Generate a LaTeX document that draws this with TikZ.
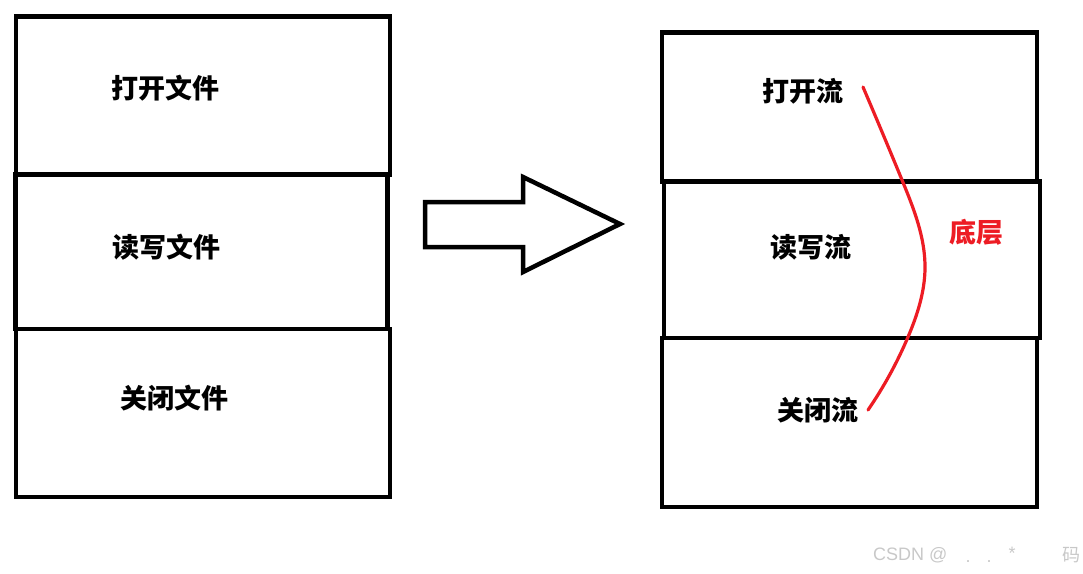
\documentclass[tikz,border=0pt]{standalone}
\usepackage{fontspec}
\newfontfamily\cjk{Noto Sans CJK SC}
\newfontfamily\wmfont{Liberation Sans}
\usetikzlibrary{hobby,positioning}
\definecolor{paintred}{RGB}{237,28,36}
\definecolor{wmgray}{RGB}{200,200,200}
\tikzset{
    layer box/.style={
        draw=black,
        line width=4.5pt,
        rectangle,
        inner sep=0pt,
        outer sep=0pt
    },
    layer text/.style={
        font=\cjk\bfseries\fontsize{27}{27}\selectfont,
        inner sep=0pt
    },
    big arrow/.style={
        draw=black,
        line width=4.5pt,
        fill=white
    },
    bottom curve/.style={
        draw=paintred,
        line width=3.2pt,
        line cap=round
    },
    watermark/.style={
        font=\wmfont\fontsize{18}{18}\selectfont,
        text=wmgray,
        inner sep=0pt
    }
}

\begin{document}
\begin{tikzpicture}[x=1pt,y=-1pt,use Hobby shortcut]
    \useasboundingbox (0,0) rectangle (1083,573);
    % left: file operations
    \node[layer box, minimum width=374pt, minimum height=158pt] (fopen) at (203,95.5) {};
    \node[layer box, minimum width=374pt, minimum height=168pt] (fclose) at (203,413) {};
    \node[layer box, minimum width=372pt, minimum height=154.5pt] (frw) at (201.5,251.75) {};
    \node[layer text] (fopentext) at (165,88) {打开文件};
    \node[layer text] (frwtext) at (166,247) {读写文件};
    \node[layer text] (fclosetext) at (174,398) {关闭文件};
    % right: streams
    \node[layer box, minimum width=375pt, minimum height=149pt] (sopen) at (849.5,107) {};
    \node[layer box, minimum width=375pt, minimum height=169pt] (sclose) at (849.5,422.5) {};
    \node[layer box, minimum width=376pt, minimum height=156.5pt] (srw) at (852,259.75) {};
    \node[layer text] (sopentext) at (803,91.5) {打开流};
    \node[layer text] (srwtext) at (811,247) {读写流};
    \node[layer text] (sclosetext) at (818,410) {关闭流};
    \node[layer text, text=paintred] (lowlevel) at (976,232) {底层};
    % arrow
    \draw[big arrow] (425,202) -- (523,202) -- (523,177) -- (620,224)
        -- (523,272) -- (523,247) -- (425,247) -- cycle;
    % red curve
    \coordinate (ctop) at (863,87);
    \coordinate (cbot) at (868,410);
    \draw[bottom curve] (ctop) .. (902,180) .. (925,268) .. (908,337) .. (cbot);
    % watermark
    \node[watermark, anchor=west] (wmcsdn) at (873,555) {CSDN @};
    \node[watermark] (wmdota) at (968,562) {.};
    \node[watermark] (wmdotb) at (989,562) {.};
    \node[watermark] (wmstar) at (1012,553) {*};
    \node[watermark, font=\cjk\fontsize{18}{18}\selectfont] (wmma) at (1071,555) {码};
\end{tikzpicture}
\end{document}
